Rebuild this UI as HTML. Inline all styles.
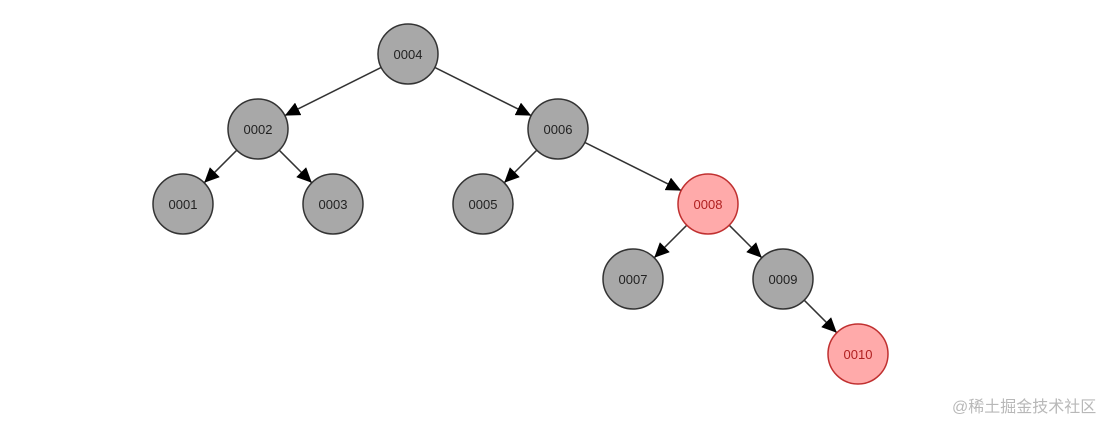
<!DOCTYPE html>
<html><head><meta charset="utf-8"><style>
html,body{margin:0;padding:0;background:#fff;}
svg{display:block;}
text{font-family:"Liberation Sans","DejaVu Sans",sans-serif;font-size:13px;}
.wm{font-family:"Liberation Sans","Noto Sans CJK SC",sans-serif;font-size:16px;fill:#b8b8b8;}
</style></head><body>
<svg width="1119" height="423" viewBox="0 0 1119 423" xmlns="http://www.w3.org/2000/svg">
<defs>
<marker id="a" markerUnits="userSpaceOnUse" markerWidth="16" markerHeight="14" refX="15" refY="7" orient="auto">
<path d="M0,0 L15,7 L0,14 Z" fill="#000"/>
</marker>
</defs>
<g stroke="#333" stroke-width="1.5" marker-end="url(#a)">
<line x1="381.2" y1="67.4" x2="284.8" y2="115.6"/>
<line x1="434.8" y1="67.4" x2="531.2" y2="115.6"/>
<line x1="584.8" y1="142.4" x2="681.2" y2="190.6"/>
<line x1="236.8" y1="150.2" x2="204.2" y2="182.8"/>
<line x1="279.2" y1="150.2" x2="311.8" y2="182.8"/>
<line x1="536.8" y1="150.2" x2="504.2" y2="182.8"/>
<line x1="686.8" y1="225.2" x2="654.2" y2="257.8"/>
<line x1="729.2" y1="225.2" x2="761.8" y2="257.8"/>
<line x1="804.2" y1="300.2" x2="836.8" y2="332.8"/>
</g>
<g stroke="#333" stroke-width="1.5" fill="#a8a8a8">
<circle cx="408" cy="54" r="30"/>
<circle cx="258" cy="129" r="30"/>
<circle cx="558" cy="129" r="30"/>
<circle cx="183" cy="204" r="30"/>
<circle cx="333" cy="204" r="30"/>
<circle cx="483" cy="204" r="30"/>
<circle cx="633" cy="279" r="30"/>
<circle cx="783" cy="279" r="30"/>
</g>
<g stroke="#c03030" stroke-width="1.5" fill="#ffaaaa">
<circle cx="708" cy="204" r="30"/>
<circle cx="858" cy="354" r="30"/>
</g>
<g text-anchor="middle" fill="#222">
<text x="408" y="59">0004</text>
<text x="258" y="134">0002</text>
<text x="558" y="134">0006</text>
<text x="183" y="209">0001</text>
<text x="333" y="209">0003</text>
<text x="483" y="209">0005</text>
<text x="633" y="284">0007</text>
<text x="783" y="284">0009</text>
<text x="708" y="209" fill="#b02020">0008</text>
<text x="858" y="359" fill="#b02020">0010</text>
</g>
<text class="wm" x="952" y="412">@稀土掘金技术社区</text>
</svg>
</body></html>
